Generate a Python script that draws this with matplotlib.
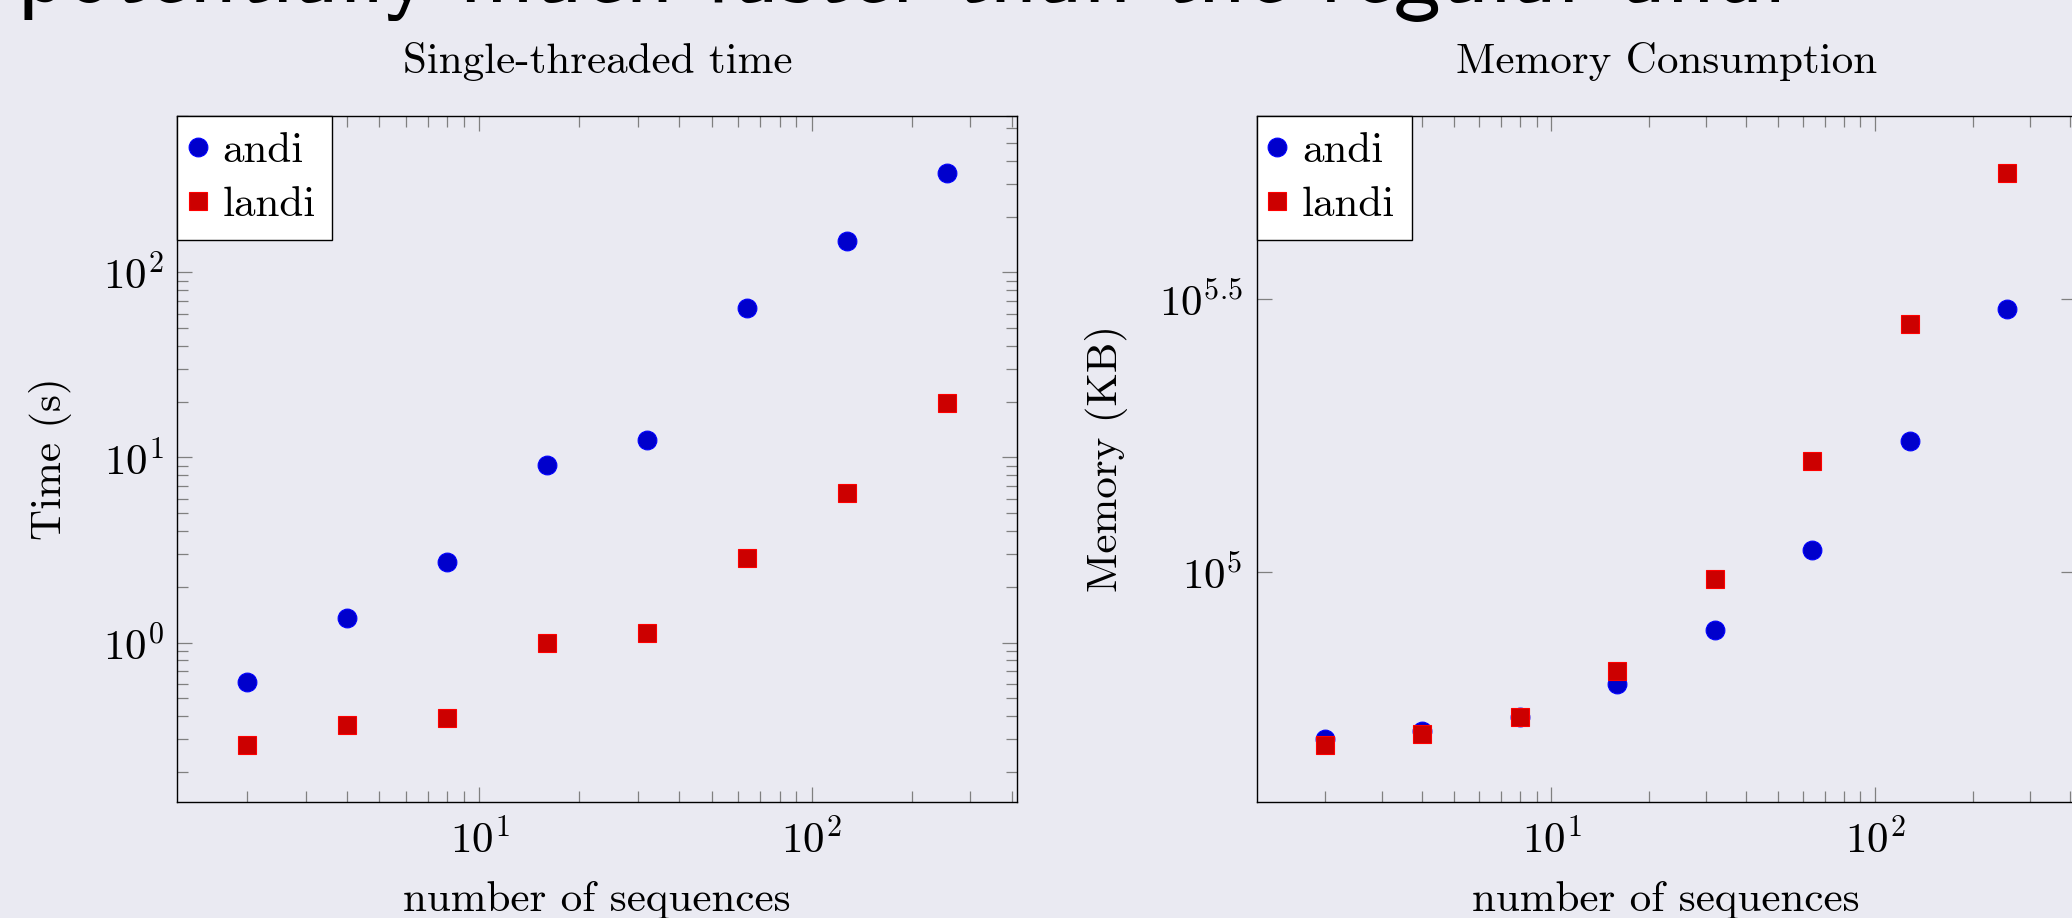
import numpy as np
import matplotlib
matplotlib.use("Agg")
import matplotlib.pyplot as plt
from matplotlib.ticker import LogLocator, NullFormatter, NullLocator

# ====== data ======
seqs = [2, 4, 8, 16, 32, 64, 128, 256]

andi_time = [0.615, 1.36, 2.72, 9.09, 12.4, 64.4, 148, 344]
landi_time = [0.280, 0.360, 0.390, 1.00, 1.13, 2.85, 6.45, 19.8]

andi_mem = [49500, 51300, 54400, 62500, 78500, 109900, 173600, 302600]
landi_mem = [48400, 50600, 54500, 66000, 97200, 160000, 284600, 537000]

headline = "potentially much faster than the regular andi"

BG = "#EAEAF2"
FS = 31
plt.rcParams["font.family"] = "cmr10"
plt.rcParams["mathtext.fontset"] = "cm"
plt.rcParams["axes.unicode_minus"] = False
plt.rcParams["axes.formatter.use_mathtext"] = True


def log_limits(*series, frac=0.1):
    # pgfplots style enlargelimits on a log axis
    v = np.log10(np.concatenate([np.asarray(s, float) for s in series]))
    lo, hi = v.min(), v.max()
    pad = (hi - lo) * frac
    return 10 ** (lo - pad), 10 ** (hi + pad)


def style_axes(ax, a, l, title, ylabel):
    ax.set_facecolor(BG)
    ax.plot(seqs, a, ls="none", marker="o", ms=13.5, mfc="#0000CC",
            mec="#0000FF", mew=0.8, label="andi")
    ax.plot(seqs, l, ls="none", marker="s", ms=13, mfc="#CC0000",
            mec="#FF0000", mew=0.8, label="landi")
    ax.set_xscale("log")
    ax.set_yscale("log")
    ax.set_xlim(*log_limits(seqs))
    ax.set_ylim(*log_limits(a, l))
    ax.xaxis.set_minor_locator(LogLocator(base=10, subs=np.arange(2, 10)))
    ax.xaxis.set_minor_formatter(NullFormatter())
    ax.tick_params(which="both", direction="in", top=True, right=True,
                   color="#808080", width=0.9, labelsize=FS)
    ax.tick_params(which="major", length=11)
    ax.tick_params(which="minor", length=8)
    ax.tick_params(axis="y", pad=10)
    ax.tick_params(axis="x", pad=12)
    for s in ax.spines.values():
        s.set_linewidth(1.0)
        s.set_color("black")
    ax.set_title(title, fontsize=FS, pad=31)
    ax.set_xlabel("number of sequences", fontsize=FS, labelpad=14)
    ax.set_ylabel(ylabel, fontsize=FS, labelpad=22)
    leg = ax.legend(loc="upper left", borderaxespad=0, fontsize=FS,
                    fancybox=False, framealpha=1, edgecolor="black",
                    handlelength=0.2, handletextpad=0.47, borderpad=0.38,
                    labelspacing=0.35, numpoints=1)
    leg.get_frame().set_linewidth(1.0)


fig = plt.figure(figsize=(20.72, 9.18), dpi=100, facecolor=BG)

ax1 = fig.add_axes([0.08557, 0.12636, 0.40541, 0.74728])
style_axes(ax1, andi_time, landi_time, "Single-threaded time", "Time (s)")
ax1.yaxis.set_minor_locator(LogLocator(base=10, subs=np.arange(2, 10)))
ax1.yaxis.set_minor_formatter(NullFormatter())

ax2 = fig.add_axes([0.60651, 0.12636, 0.39527, 0.74728])
style_axes(ax2, andi_mem, landi_mem, "Memory Consumption", "Memory (KB)")
ax2.set_yticks([1e5, 10 ** 5.5], labels=[r"$10^{5}$", r"$10^{5.5}$"])
ax2.yaxis.set_minor_locator(NullLocator())

# slide headline, mostly cut off by the top edge of the crop
fig.text(0.008, 1 - 22 / 918, headline, family="cmss10", fontsize=68,
         va="bottom", ha="left")

fig.savefig("out.png", dpi=100, facecolor=BG)
